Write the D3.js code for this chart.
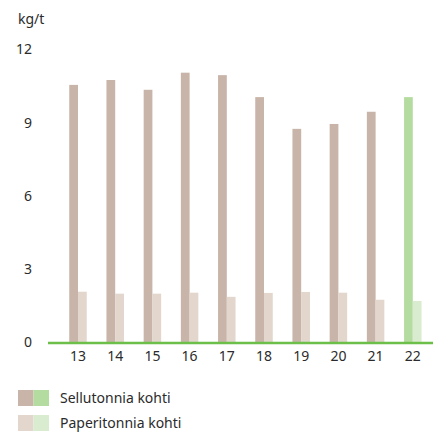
<!DOCTYPE html>
<html>
<head>
<meta charset="utf-8">
<script src="https://cdn.jsdelivr.net/npm/d3@7"></script>
<style>
  body { margin: 0; background: #fff; }
  svg text { font-family: "Noto Sans", sans-serif; fill: #2b2b2b; }
</style>
</head>
<body>
<div class="chart"></div>
<script>
const width = 433,
    height = 436;

// years 2013-2022
const years = ["13", "14", "15", "16", "17", "18", "19", "20", "21", "22"];
const selluValues = [10.55, 10.75, 10.35, 11.05, 10.95, 10.05, 8.75, 8.95, 9.45, 10.05];
const paperiValues = [2.08, 2.0, 2.0, 2.04, 1.87, 2.03, 2.07, 2.04, 1.75, 1.7];
const yTicks = [0, 3, 6, 9, 12];
const seriesNames = ["Sellutonnia kohti", "Paperitonnia kohti"];

const svg = d3.select(".chart").append("svg")
    .attr("width", width)
    .attr("height", height);

const x = d3.scaleBand()
    .domain(years)
    .range([59.4, 431.4])
    .paddingInner(0.53)
    .paddingOuter(0.265);
const xSub = d3.scaleBand()
    .domain(["sellu", "paperi"])
    .range([0, x.bandwidth()]);
const y = d3.scaleLinear()
    .domain([0, 12])
    .range([342.5, 49.5]);

const colors = {
    sellu: "#c8b4a8",
    paperi: "#e2d6cd",
    selluNew: "#b5dca0",
    paperiNew: "#daeccf"
};
const lastYear = years[years.length - 1];

// unit label
svg.append("text")
    .attr("x", 18)
    .attr("y", 24)
    .style("font-size", "14px")
    .text("kg/t");

// y axis labels
const yAxis = svg.append("g")
    .attr("transform", "translate(32,0)")
    .call(d3.axisLeft(y).tickValues(yTicks).tickSize(0).tickPadding(0));
yAxis.select(".domain").remove();
yAxis.selectAll("text")
    .style("font-size", "14px")
    .attr("fill", null);

const rows = years.map((yr, i) => ({year: yr, sellu: selluValues[i], paperi: paperiValues[i]}));

svg.append("g").selectAll("rect")
    .data(rows)
    .join("rect")
    .attr("x", d => x(d.year) + xSub("sellu"))
    .attr("width", xSub.bandwidth())
    .attr("y", d => y(d.sellu))
    .attr("height", d => y(0) - y(d.sellu))
    .attr("fill", d => d.year === lastYear ? colors.selluNew : colors.sellu);

svg.append("g").selectAll("rect")
    .data(rows)
    .join("rect")
    .attr("x", d => x(d.year) + xSub("paperi"))
    .attr("width", xSub.bandwidth())
    .attr("y", d => y(d.paperi))
    .attr("height", d => y(0) - y(d.paperi))
    .attr("fill", d => d.year === lastYear ? colors.paperiNew : colors.paperi);

// baseline
svg.append("line")
    .attr("x1", 48)
    .attr("x2", width)
    .attr("y1", y(0) + 0.5)
    .attr("y2", y(0) + 0.5)
    .attr("stroke", "#6cc04a")
    .attr("stroke-width", 2.5);

// x axis labels
const xAxis = svg.append("g")
    .attr("transform", `translate(0,${y(0) + 9})`)
    .call(d3.axisBottom(x).tickSize(0).tickPadding(0));
xAxis.select(".domain").remove();
xAxis.selectAll("text")
    .style("font-size", "14px")
    .attr("fill", null);

// legend
const legend = svg.append("g");
const legendRows = [
    {name: seriesNames[0], c1: colors.sellu, c2: colors.selluNew},
    {name: seriesNames[1], c1: colors.paperi, c2: colors.paperiNew}
];
legendRows.forEach((r, i) => {
    const gy = 390 + i * 25;
    legend.append("rect").attr("x", 18).attr("y", gy).attr("width", 15.5).attr("height", 16).attr("fill", r.c1);
    legend.append("rect").attr("x", 33.5).attr("y", gy).attr("width", 15.5).attr("height", 16).attr("fill", r.c2);
    legend.append("text")
        .attr("x", 60)
        .attr("y", gy + 13)
        .style("font-size", "14px")
        .text(r.name);
});
</script>
</body>
</html>
